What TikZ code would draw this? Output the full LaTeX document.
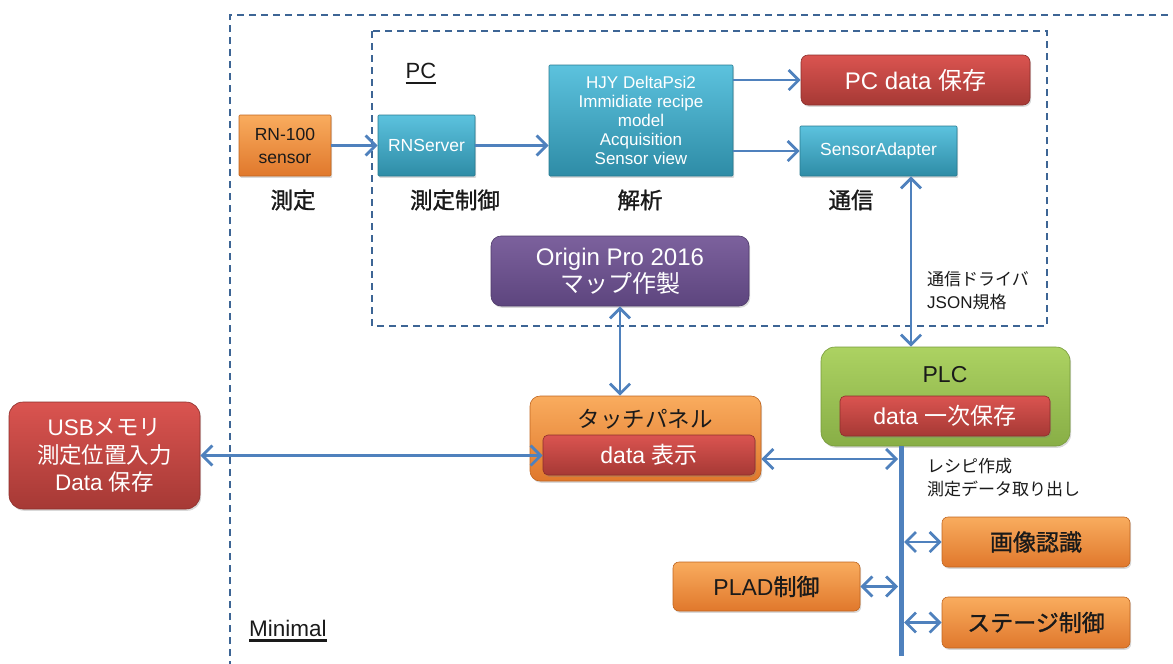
\documentclass[tikz,border=0pt]{standalone}
\usepackage{fontspec}
\setmainfont{Liberation Sans}
\newfontfamily\jpnf[FakeBold=1.2]{Noto Sans CJK JP}
\newfontfamily\jpnr{Noto Sans CJK JP}
\usetikzlibrary{arrows.meta,shadows,calc}
\definecolor{orT}{HTML}{F9AC5E}
\definecolor{orB}{HTML}{E0782C}
\definecolor{orD}{HTML}{C0651F}
\definecolor{cyT}{HTML}{5CC2DE}
\definecolor{cyB}{HTML}{2E8CA6}
\definecolor{cyD}{HTML}{287A90}
\definecolor{rdT}{HTML}{DA5450}
\definecolor{rdB}{HTML}{A63935}
\definecolor{rdD}{HTML}{8C2E2B}
\definecolor{puT}{HTML}{7C619D}
\definecolor{puB}{HTML}{5D457E}
\definecolor{puD}{HTML}{4E3A6A}
\definecolor{grT}{HTML}{ACD262}
\definecolor{grB}{HTML}{88AE46}
\definecolor{grD}{HTML}{769A3A}
\definecolor{arr}{HTML}{4F81BD}
\definecolor{dsh}{HTML}{3D6595}
\definecolor{ink}{HTML}{1A1A1A}
\tikzset{
  bx/.style={inner sep=0pt, align=center, line width=0.6pt,
    drop shadow={shadow xshift=1.2pt, shadow yshift=-1.8pt, opacity=0.3}},
  orbox/.style={bx, top color=orT, bottom color=orB, draw=orD, text=ink},
  cybox/.style={bx, top color=cyT, bottom color=cyB, draw=cyD, text=white},
  rdbox/.style={bx, top color=rdT, bottom color=rdB, draw=rdD, text=white},
  pubox/.style={bx, top color=puT, bottom color=puB, draw=puD, text=white},
  grbox/.style={bx, top color=grT, bottom color=grB, draw=grD, text=ink},
  lbl/.style={inner sep=0pt, text=ink},
  dbox/.style={draw=dsh, line width=2pt, dash pattern=on 7pt off 5pt},
  tip/.tip={Straight Barb[length=10pt,width=20pt]},
  conn/.style={draw=arr, line width=2.8pt, -tip},
  conn2/.style={draw=arr, line width=2.8pt, tip-tip},
  bus/.style={draw=arr, line width=5pt},
  uline/.style={draw=ink, line width=2.6pt},
}
\newcommand{\fs}[2]{\fontsize{#1}{#2}\selectfont}
\begin{document}
\begin{tikzpicture}[x=1pt, y=-1pt]
\useasboundingbox (0,0) rectangle (1173,664);
% dashed frames
\draw[dbox] (230,680) -- (230,15) -- (1190,15);
\draw[dbox] (372,31) rectangle (1047,326);
% labels of frames
\node[lbl, font=\fs{22}{24}] (pclab) at (421,71) {PC};
\draw[uline] ([yshift=-4pt]pclab.south west) -- ([yshift=-4pt]pclab.south east);
\node[lbl, font=\fs{22.5}{24}] (minlab) at (288,628) {Minimal};
\draw[uline] ([yshift=-4pt]minlab.south west) -- ([yshift=-4pt]minlab.south east);
% PC row
\node[orbox, rounded corners=1pt, minimum width=92pt, minimum height=61pt, font=\fs{17.5}{23}] (rn) at (285,145.5) {RN-100\\sensor};
\node[cybox, rounded corners=1pt, minimum width=97pt, minimum height=61pt, font=\fs{17.5}{20}] (rns) at (426.5,145.5) {RNServer};
\node[cybox, rounded corners=1pt, minimum width=184pt, minimum height=111pt, font=\fs{17}{19}] (hjy) at (641,120.5) {HJY DeltaPsi2\\Immidiate recipe\\model\\Acquisition\\Sensor view};
\node[rdbox, rounded corners=7pt, minimum width=229pt, minimum height=50pt, font=\fs{24}{26}] (pcd) at (915.5,80) {PC data {\jpnr 保存}};
\node[cybox, rounded corners=1pt, minimum width=157pt, minimum height=50pt, font=\fs{17.5}{20}] (sa) at (878.5,151) {SensorAdapter};
\node[lbl, font=\fs{22.5}{24}\jpnf] (l1) at (293,200) {測定};
\node[lbl, font=\fs{22.5}{24}\jpnf] (l2) at (455,200) {測定制御};
\node[lbl, font=\fs{22.5}{24}\jpnf] (l3) at (640,200) {解析};
\node[lbl, font=\fs{22.5}{24}\jpnf] (l4) at (851,200) {通信};
\node[pubox, rounded corners=10pt, minimum width=258pt, minimum height=70pt, font=\fs{24}{27}] (origin) at (620,271) {Origin Pro 2016\\{\jpnr マップ作製}};
\node[lbl, anchor=west, align=left, font=\fs{17}{23}] (drv) at (927,291) {{\jpnr 通信ドライバ}\\JSON{\jpnr 規格}};
% lower section
\node[grbox, rounded corners=14pt, minimum width=249pt, minimum height=99pt] (plc) at (945.5,396.5) {};
\node[lbl, font=\fs{23}{25}] (plct) at (945,375) {PLC};
\node[rdbox, rounded corners=5pt, minimum width=210pt, minimum height=40pt, font=\fs{23}{25}] (plcd) at (945,416) {data {\jpnr 一次保存}};
\node[orbox, rounded corners=10pt, minimum width=231pt, minimum height=85pt] (touch) at (645.5,438.5) {};
\node[lbl, font=\fs{22.5}{25}\jpnr] (toucht) at (645,419) {タッチパネル};
\node[rdbox, rounded corners=5pt, minimum width=212pt, minimum height=40pt, font=\fs{23}{25}] (tin) at (649,455) {data {\jpnr 表示}};
\node[rdbox, rounded corners=14pt, minimum width=191pt, minimum height=107pt, font=\fs{22.5}{27.5}] (usb) at (104.5,455.5) {USB{\jpnr メモリ}\\{\jpnr 測定位置入力}\\Data {\jpnr 保存}};
\node[lbl, anchor=west, align=left, font=\fs{17}{23}\jpnr] (rcp) at (927,478) {レシピ作成\\測定データ取り出し};
\node[orbox, rounded corners=6pt, minimum width=188pt, minimum height=50pt, font=\fs{23}{25}\jpnf] (img) at (1036,542) {画像認識};
\node[orbox, rounded corners=6pt, minimum width=188pt, minimum height=51pt, font=\fs{23}{25}\jpnf] (stage) at (1036,622.5) {ステージ制御};
\node[orbox, rounded corners=6pt, minimum width=187pt, minimum height=49pt, font=\fs{23}{25}] (plad) at (766.5,586.5) {PLAD{\jpnf 制御}};
% bus
\coordinate (bt) at (901,446);
\coordinate (bb) at (901,656);
\draw[bus] (bt) -- (bb);
% connectors
\draw[conn] (rn) -- (rns);
\draw[conn] (rns.east) -- (rns.east -| hjy.west);
\draw[conn] (hjy.east |- pcd.west) -- (pcd.west);
\draw[conn] (hjy.east |- sa.west) -- (sa.west);
\coordinate (sap) at ($(sa.south)+(32.5,0)$);
\draw[conn2] (sap) -- (sap |- plc.north);
\draw[conn2] (origin.south) -- (origin.south |- touch.north);
\draw[conn2] (usb.east) -- (usb.east -| tin.west);
\coordinate (bA) at (898,459);
\draw[conn2] (bA -| touch.east) -- (bA);
\coordinate (bB) at (904,542);
\draw[conn2] (bB) -- (img.west);
\coordinate (bC) at (904,622.5);
\draw[conn2] (bC) -- (stage.west);
\coordinate (bD) at (898,586.5);
\draw[conn2] (plad.east) -- (bD);
\end{tikzpicture}
\end{document}
